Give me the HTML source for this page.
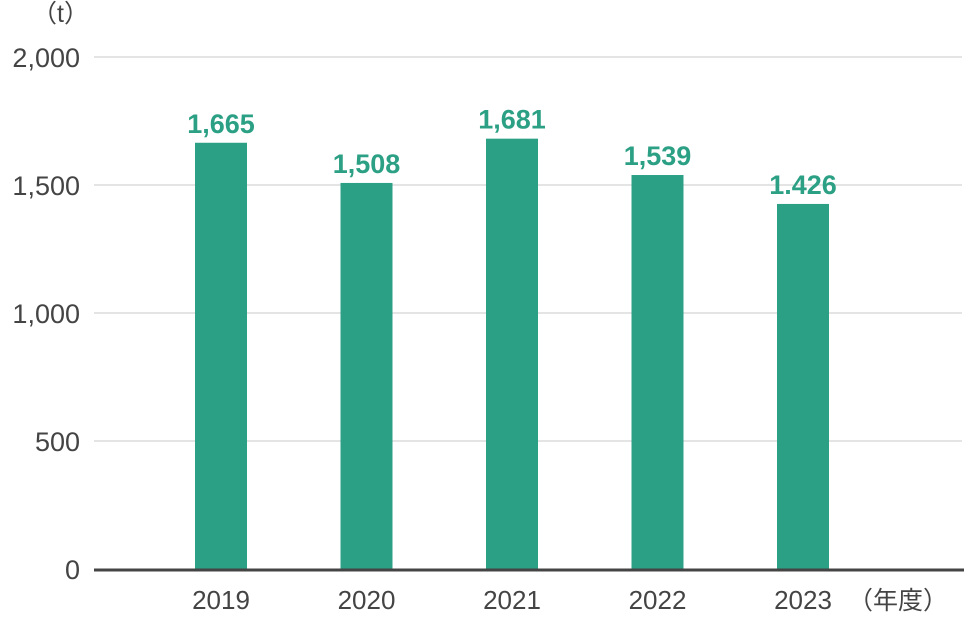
<!DOCTYPE html>
<html><head><meta charset="utf-8"><style>
body{margin:0;background:#fff;}
svg{display:block;font-family:"Liberation Sans","Noto Sans CJK JP",sans-serif;}
</style></head><body>
<svg id="chart" width="977" height="622" viewBox="0 0 977 622"></svg>
<script>
const categories=["2019","2020","2021","2022","2023"];
const values=[1665,1508,1681,1539,1426];
const valueLabels=["1,665","1,508","1,681","1,539","1.426"];
const yTicks=[0,500,1000,1500,2000];
const yTickLabels=["0","500","1,000","1,500","2,000"];
const svg=document.getElementById('chart');
const NS="http://www.w3.org/2000/svg";
const y0=569,yTop=57,yMax=2000;
const y=v=>y0-(v/yMax)*(y0-yTop);
const x=i=>221+i*145.5;
function mk(t,a,txt){const e=document.createElementNS(NS,t);for(const k in a)e.setAttribute(k,a[k]);if(txt!==undefined)e.textContent=txt;svg.appendChild(e);return e;}
yTicks.forEach((t,i)=>{
  if(t>0){const g=mk('line',{x1:94,x2:962,y1:y(t),y2:y(t),stroke:'#c8c8c8','stroke-width':1});
  
  }
  const l=mk('text',{x:80,y:y(t)+10,'text-anchor':'end','font-size':27,fill:'#444'},yTickLabels[i]);
  
  
});
const u=mk('text',{x:32,y:22,'font-size':25,fill:'#444'},'（t）');


categories.forEach((c,i)=>{
  const b=mk('rect',{x:x(i)-26,y:y(values[i]),width:52,height:y0-y(values[i]),fill:'#2ca084'});
  
  
  const v=mk('text',{x:x(i),y:y(values[i])-10,'text-anchor':'middle','font-size':27,'font-weight':'bold',fill:'#2ca084'},valueLabels[i]);
  
  
  const cl=mk('text',{x:x(i),y:609,'text-anchor':'middle','font-size':26,fill:'#444'},c);
  
  
});
const ax=mk('line',{x1:94,x2:964,y1:y0+1,y2:y0+1,stroke:'#444','stroke-width':3});


const xu=mk('text',{x:848,y:609,'font-size':25,fill:'#444'},'（年度）');


</script>
</body></html>
